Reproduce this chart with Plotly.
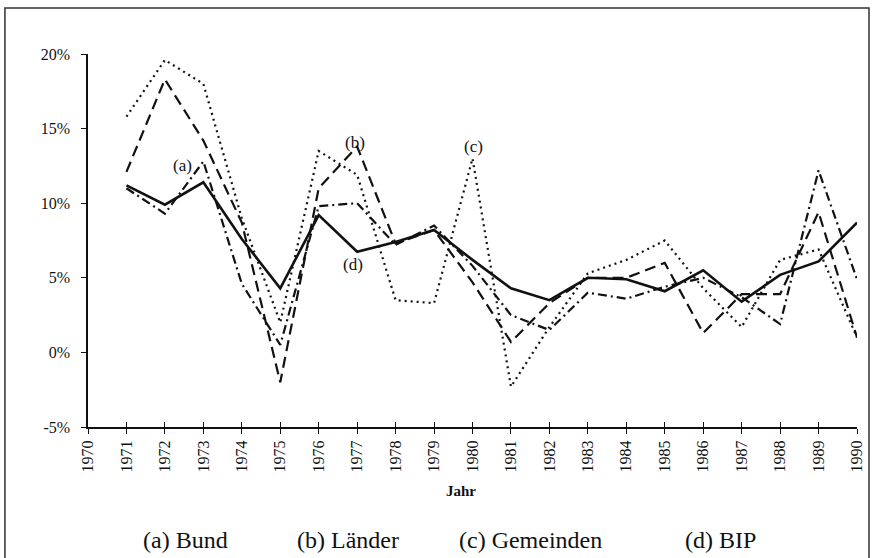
import plotly.graph_objects as go

years = list(range(1971, 1991))
bund = [11.0, 9.3, 12.8, 4.6, 0.5, 9.8, 10.0, 7.2, 8.5, 5.8, 2.5, 1.5, 4.0, 3.6, 4.4, 5.0, 3.7, 1.9, 12.2, 4.9]
laender = [12.1, 18.3, 14.2, 8.7, -2.0, 11.0, 13.8, 7.3, 8.2, 4.7, 0.7, 3.3, 5.0, 5.0, 6.0, 1.3, 3.9, 3.9, 9.4, 1.0]
gemeinden = [15.8, 19.6, 18.0, 9.0, 2.0, 13.5, 11.9, 3.5, 3.3, 13.0, -2.3, 1.7, 5.3, 6.2, 7.5, 4.3, 1.7, 6.2, 6.9, 1.0]
bip = [11.2, 9.9, 11.4, 7.6, 4.3, 9.2, 6.75, 7.4, 8.2, 6.2, 4.3, 3.5, 5.0, 4.9, 4.1, 5.5, 3.4, 5.2, 6.1, 8.7]

x_ticks = list(range(1970, 1991))
x_ticklabels = [str(y) for y in x_ticks]
y_ticks = [-5, 0, 5, 10, 15, 20]
y_ticklabels = ["-5%", "0%", "5%", "10%", "15%", "20%"]

legend_labels = ["(a) Bund", "(b) Länder", "(c) Gemeinden", "(d) BIP"]
curve_labels = ["(a)", "(b)", "(c)", "(d)"]
curve_label_pos = [(1972.45, 12.5), (1976.94, 14.1), (1980.02, 13.8), (1976.9, 5.86)]

SERIF = "Liberation Serif"
INK = "#111111"

fig = go.Figure()
fig.add_trace(go.Scatter(x=years, y=bund, mode="lines",
                         line=dict(color=INK, width=2.2, dash="9px,4px,2px,4px")))
fig.add_trace(go.Scatter(x=years, y=laender, mode="lines",
                         line=dict(color=INK, width=2.2, dash="11px,6px")))
fig.add_trace(go.Scatter(x=years, y=gemeinden, mode="lines",
                         line=dict(color=INK, width=2.2, dash="2px,4px")))
fig.add_trace(go.Scatter(x=years, y=bip, mode="lines",
                         line=dict(color=INK, width=2.6)))
# invisible trace to carry the overlay axis (inside half of crossing ticks)
fig.add_trace(go.Scatter(x=[1970, 1990], y=[-5, -5], mode="lines", xaxis="x2",
                         line=dict(color="rgba(0,0,0,0)", width=0), hoverinfo="skip"))

for txt, (xx, yy) in zip(curve_labels, curve_label_pos):
    fig.add_annotation(x=xx, y=yy, text=txt, showarrow=False, xanchor="center",
                       font=dict(family=SERIF, size=17, color=INK))

legend_x = [0.127, 0.338, 0.575, 0.822]
for txt, xx in zip(legend_labels, legend_x):
    fig.add_annotation(x=xx, y=-0.303, xref="paper", yref="paper", text=txt,
                       showarrow=False, xanchor="center", yanchor="middle",
                       font=dict(family=SERIF, size=24, color=INK))

fig.add_annotation(x=0.485, y=-0.172, xref="paper", yref="paper", text="<b>Jahr</b>",
                   showarrow=False, xanchor="center", yanchor="middle",
                   font=dict(family=SERIF, size=15, color=INK))

# outer frame
fig.add_shape(type="rect", xref="paper", yref="paper",
              x0=-0.108, x1=1.0156, y0=-0.6, y1=1.123,
              line=dict(color="#333", width=1.5), layer="below")

fig.update_layout(
    width=876, height=558,
    margin=dict(l=88, r=19, t=54, b=131),
    paper_bgcolor="white", plot_bgcolor="white",
    showlegend=False,
    xaxis=dict(range=[1970, 1990], tickvals=x_ticks, ticktext=x_ticklabels,
               tickangle=-90, ticks="outside", ticklen=5, tickwidth=1.3, tickcolor=INK,
               showline=True, linecolor=INK, linewidth=2, showgrid=False, zeroline=False,
               tickfont=dict(family=SERIF, size=16, color=INK)),
    xaxis2=dict(range=[1970, 1990], overlaying="x", side="bottom", tickvals=x_ticks,
                ticks="inside", ticklen=5, tickwidth=1.3, tickcolor=INK,
                showticklabels=False, showline=False, showgrid=False, zeroline=False),
    yaxis=dict(range=[-5, 20], tickvals=y_ticks, ticktext=y_ticklabels,
               ticks="outside", ticklen=5, tickwidth=1.3, tickcolor=INK,
               ticklabelstandoff=8,
               showline=True, linecolor=INK, linewidth=1.5, showgrid=False, zeroline=False,
               tickfont=dict(family=SERIF, size=16, color=INK)),
)

fig.write_html("out.html", config={"displayModeBar": False},
               post_script="document.body.style.margin='0';")
